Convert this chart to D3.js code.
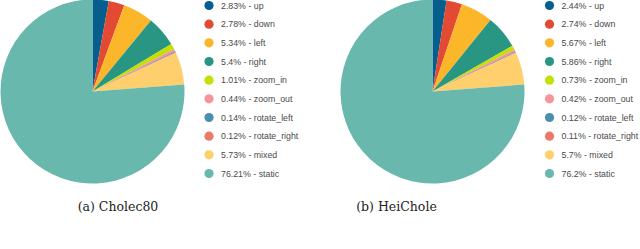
<!DOCTYPE html>
<html>
<head>
<meta charset="utf-8">
<script src="https://cdn.jsdelivr.net/npm/d3@7"></script>
<style>
  body { margin: 0; background: #fff; }
</style>
</head>
<body>
<div id="root"></div>
<script>
// categories shared by both pies
const categories = ['up', 'down', 'left', 'right', 'zoom_in', 'zoom_out', 'rotate_left', 'rotate_right', 'mixed', 'static'];
const colors = ['#055e8c', '#e24a33', '#fbb62a', '#299683', '#c4df02', '#f6949c', '#4a8eb1', '#e97a6b', '#fecf6c', '#68b8ad'];

// percentages per dataset
const cholec80 = [2.83, 2.78, 5.34, 5.4, 1.01, 0.44, 0.14, 0.12, 5.73, 76.21];
const heiChole = [2.44, 2.74, 5.67, 5.86, 0.73, 0.42, 0.12, 0.11, 5.7, 76.2];

const captions = ['(a) Cholec80', '(b) HeiChole'];

const width = 640;
const height = 249;

const svg = d3.select('#root')
  .append('svg')
  .attr('width', width)
  .attr('height', height);

const radius = 92;
const panels = [
  { values: cholec80, cx: 92.5, legendX: 209, caption: captions[0], captionX: 118 },
  { values: heiChole, cx: 432.5, legendX: 549.5, caption: captions[1], captionX: 396.5 },
];

const pie = d3.pie().sort(null).value(d => d);
const arc = d3.arc().innerRadius(0).outerRadius(radius);

const color = d3.scaleOrdinal().domain(categories).range(colors);
const legendY = d3.scalePoint().domain(categories).range([5.5, 173.5]);

panels.forEach(panel => {
  const g = svg.append('g').attr('transform', `translate(${panel.cx} 91.5)`);

  g.selectAll('path')
    .data(pie(panel.values))
    .enter()
    .append('path')
    .attr('d', arc)
    .attr('fill', (d, i) => color(categories[i]));

  const legend = svg.append('g')
    .selectAll('g')
    .data(categories)
    .enter()
    .append('g')
    .attr('transform', d => `translate(${panel.legendX} ${legendY(d)})`);

  legend.append('circle')
    .attr('r', 4.6)
    .attr('fill', d => color(d));

  legend.append('text')
    .attr('x', 12)
    .attr('dy', '0.35em')
    .style('font-family', '"Liberation Sans", Arial, sans-serif')
    .attr('font-size', 8.8)
    .attr('fill', '#4a4a4a')
    .text((d, i) => `${panel.values[i]}% - ${d}`);

  svg.append('text')
    .attr('x', panel.captionX)
    .attr('y', 211)
    .attr('text-anchor', 'middle')
    .style('font-family', '"DejaVu Serif", serif')
    .attr('font-size', 12.5)
    .attr('fill', '#222')
    .text(panel.caption);
});
</script>
</body>
</html>
